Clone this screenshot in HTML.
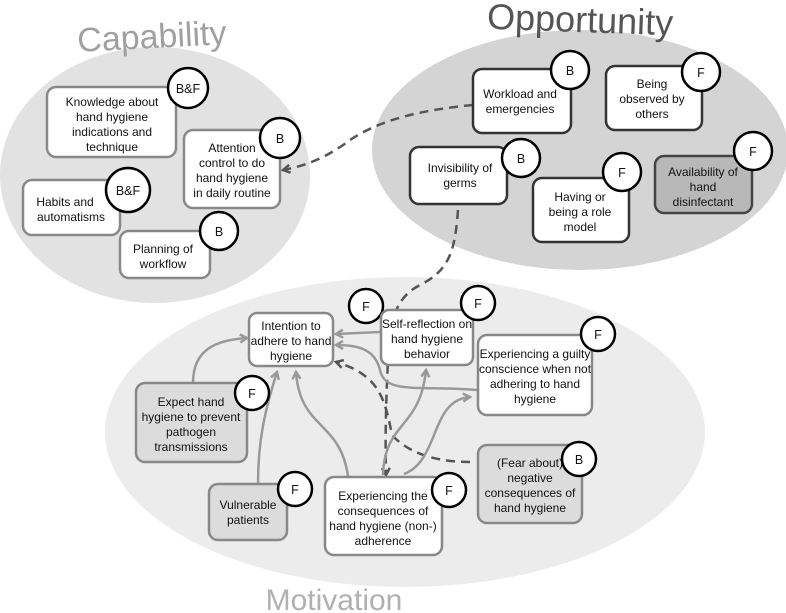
<!DOCTYPE html>
<html><head><meta charset="utf-8"><style>
html,body{margin:0;padding:0;background:#fff;}
svg{display:block;font-family:"Liberation Sans",sans-serif;}
.bx{stroke:#888;stroke-width:2.5;}
.bd{fill:#fff;stroke:#000;stroke-width:2.5;}
.t{font-size:12px;text-anchor:middle;fill:#111;}
.bt{font-size:12.5px;text-anchor:middle;fill:#111;}
.s{fill:none;stroke:#999;stroke-width:2.5;}
.d{fill:none;stroke:#555;stroke-width:2.5;stroke-dasharray:9,6;}
</style></head><body>
<svg width="786" height="613" viewBox="0 0 786 613">
<defs>
<marker id="ag" markerWidth="10" markerHeight="10" refX="8" refY="5" orient="auto" markerUnits="userSpaceOnUse"><path d="M1,1 L8,5 L1,9" fill="none" stroke="#999" stroke-width="2.5"/></marker>
<marker id="ad" markerWidth="10" markerHeight="10" refX="8" refY="5" orient="auto" markerUnits="userSpaceOnUse"><path d="M1,1 L8,5 L1,9" fill="none" stroke="#555" stroke-width="2.5"/></marker>
</defs>
<ellipse cx="405" cy="432" rx="300" ry="155" fill="#ececec"/>
<ellipse cx="155" cy="175" rx="155" ry="128" fill="#e2e2e2"/>
<ellipse cx="580" cy="150" rx="208" ry="120" fill="#d4d4d4"/>

<text x="152" y="48" font-size="34" fill="#a0a0a0" text-anchor="middle" transform="rotate(-3 152 40)">Capability</text>
<text x="580" y="32" font-size="36" fill="#555" text-anchor="middle" transform="rotate(2 580 25)">Opportunity</text>
<text x="334" y="610" font-size="30" fill="#b0b0b0" text-anchor="middle">Motivation</text>

<path class="d" d="M473,105 C420,110 380,120 350,140 C330,155 310,165 283,170" marker-end="url(#ad)"/>
<path class="d" d="M458,210 C455,250 450,270 420,285 C395,298 390,320 388,360 C386,400 385,440 386,475" marker-end="url(#ad)"/>
<path class="d" d="M470,462 C440,462 410,455 392,435 C385,400 380,375 336,362" marker-end="url(#ad)"/>
<path class="s" d="M193,383 C193,350 215,340 247,338" marker-end="url(#ag)"/>
<path class="s" d="M258,484 C258,440 265,410 277,372" marker-end="url(#ag)"/>
<path class="s" d="M348,476 C340,420 300,430 296,372" marker-end="url(#ag)"/>
<path class="s" d="M383,475 C385,420 420,430 426,370" marker-end="url(#ag)"/>
<path class="s" d="M404,474 C440,460 430,400 470,397" marker-end="url(#ag)"/>
<path class="s" d="M478,390 C420,385 385,395 380,370 C375,350 360,345 336,345" marker-end="url(#ag)"/>
<path class="s" d="M380,332 L336,334" marker-end="url(#ag)"/>

<rect class="bx" x="47" y="87" width="129" height="70" rx="9" fill="#fff"/>
<text class="t" x="112" y="106">Knowledge about</text><text class="t" x="112" y="121">hand hygiene</text><text class="t" x="112" y="136">indications and</text><text class="t" x="112" y="151">technique</text>
<circle class="bd" cx="188" cy="88" r="20"/><text class="bt" x="188" y="93">B&amp;F</text>
<rect class="bx" x="184" y="130" width="96" height="78" rx="9" fill="#fff"/>
<text class="t" x="232" y="152">Attention</text><text class="t" x="232" y="167">control to do</text><text class="t" x="232" y="182">hand hygiene</text><text class="t" x="232" y="197">in daily routine</text>
<circle class="bd" cx="280" cy="138" r="20"/><text class="bt" x="280" y="143">B</text>
<rect class="bx" x="23" y="180" width="97" height="55" rx="9" fill="#fff"/>
<text class="t" x="65" y="206">Habits and</text><text class="t" x="71" y="221">automatisms</text>
<circle class="bd" cx="128" cy="190" r="22"/><text class="bt" x="128" y="195">B&amp;F</text>
<rect class="bx" x="120" y="231" width="90" height="47" rx="9" fill="#fff"/>
<text class="t" x="163" y="253">Planning of</text><text class="t" x="163" y="268">workflow</text>
<circle class="bd" cx="219" cy="231" r="19"/><text class="bt" x="219" y="236">B</text>

<rect x="473" y="69" width="98" height="64" rx="9" fill="#fff" stroke="#333" stroke-width="2.5"/>
<text class="t" x="520" y="98">Workload and</text><text class="t" x="520" y="113">emergencies</text>
<circle class="bd" cx="570" cy="70" r="19"/><text class="bt" x="570" y="75">B</text>
<rect x="606" y="66" width="96" height="64" rx="9" fill="#fff" stroke="#333" stroke-width="2.5"/>
<text class="t" x="652" y="88">Being</text><text class="t" x="652" y="103">observed by</text><text class="t" x="652" y="118">others</text>
<circle class="bd" cx="701" cy="72" r="19"/><text class="bt" x="701" y="77">F</text>
<rect x="410" y="147" width="97" height="57" rx="9" fill="#fff" stroke="#333" stroke-width="2.5"/>
<text class="t" x="460" y="172">Invisibility of</text><text class="t" x="460" y="187">germs</text>
<circle class="bd" cx="521" cy="158" r="19"/><text class="bt" x="521" y="163">B</text>
<rect x="533" y="178" width="96" height="64" rx="9" fill="#fff" stroke="#333" stroke-width="2.5"/>
<text class="t" x="580" y="201">Having or</text><text class="t" x="580" y="216">being a role</text><text class="t" x="580" y="231">model</text>
<circle class="bd" cx="622" cy="172" r="19"/><text class="bt" x="622" y="177">F</text>
<rect x="655" y="156" width="97" height="57" rx="9" fill="#b8b8b8" stroke="#444" stroke-width="2.5"/>
<text class="t" x="703" y="176">Availability of</text><text class="t" x="703" y="191">hand</text><text class="t" x="703" y="206">disinfectant</text>
<circle class="bd" cx="753" cy="151" r="19"/><text class="bt" x="753" y="156">F</text>

<rect class="bx" x="249" y="313" width="84" height="53" rx="8" fill="#fff" stroke="#bbb"/>
<text class="t" x="291" y="330">Intention to</text><text class="t" x="291" y="345">adhere to hand</text><text class="t" x="291" y="360">hygiene</text>
<circle class="bd" cx="366" cy="306" r="17"/><text class="bt" x="366" y="311">F</text>
<rect class="bx" x="381" y="310" width="92" height="55" rx="8" fill="#fff" stroke="#bbb"/>
<text class="t" x="427" y="328">Self-reflection on</text><text class="t" x="427" y="343">hand hygiene</text><text class="t" x="427" y="358">behavior</text>
<circle class="bd" cx="478" cy="303" r="17"/><text class="bt" x="478" y="308">F</text>
<rect class="bx" x="478" y="335" width="114" height="80" rx="9" fill="#fff" stroke="#bbb"/>
<text class="t" x="535" y="358">Experiencing a guilty</text><text class="t" x="535" y="373">conscience when not</text><text class="t" x="535" y="388">adhering to hand</text><text class="t" x="535" y="403">hygiene</text>
<circle class="bd" cx="598" cy="334" r="17"/><text class="bt" x="598" y="339">F</text>
<rect class="bx" x="136" y="383" width="111" height="79" rx="9" fill="#dcdcdc" stroke="#c8c8c8"/>
<text class="t" x="191" y="406">Expect hand</text><text class="t" x="191" y="421">hygiene to prevent</text><text class="t" x="191" y="436">pathogen</text><text class="t" x="191" y="451">transmissions</text>
<circle class="bd" cx="252" cy="393" r="17"/><text class="bt" x="252" y="398">F</text>
<rect class="bx" x="209" y="484" width="78" height="56" rx="9" fill="#dcdcdc" stroke="#c8c8c8"/>
<text class="t" x="248" y="509">Vulnerable</text><text class="t" x="248" y="524">patients</text>
<circle class="bd" cx="295" cy="489" r="17"/><text class="bt" x="295" y="494">F</text>
<rect class="bx" x="325" y="477" width="117" height="78" rx="9" fill="#fff" stroke="#bbb"/>
<text class="t" x="383" y="500">Experiencing the</text><text class="t" x="383" y="515">consequences of</text><text class="t" x="383" y="530">hand hygiene (non-)</text><text class="t" x="383" y="545">adherence</text>
<circle class="bd" cx="449" cy="490" r="17"/><text class="bt" x="449" y="495">F</text>
<rect class="bx" x="478" y="445" width="104" height="78" rx="9" fill="#dcdcdc" stroke="#c8c8c8"/>
<text class="t" x="530" y="467">(Fear about)</text><text class="t" x="530" y="482">negative</text><text class="t" x="530" y="497">consequences of</text><text class="t" x="530" y="512">hand hygiene</text>
<circle class="bd" cx="579" cy="459" r="17"/><text class="bt" x="579" y="464">B</text>
</svg>
</body></html>
